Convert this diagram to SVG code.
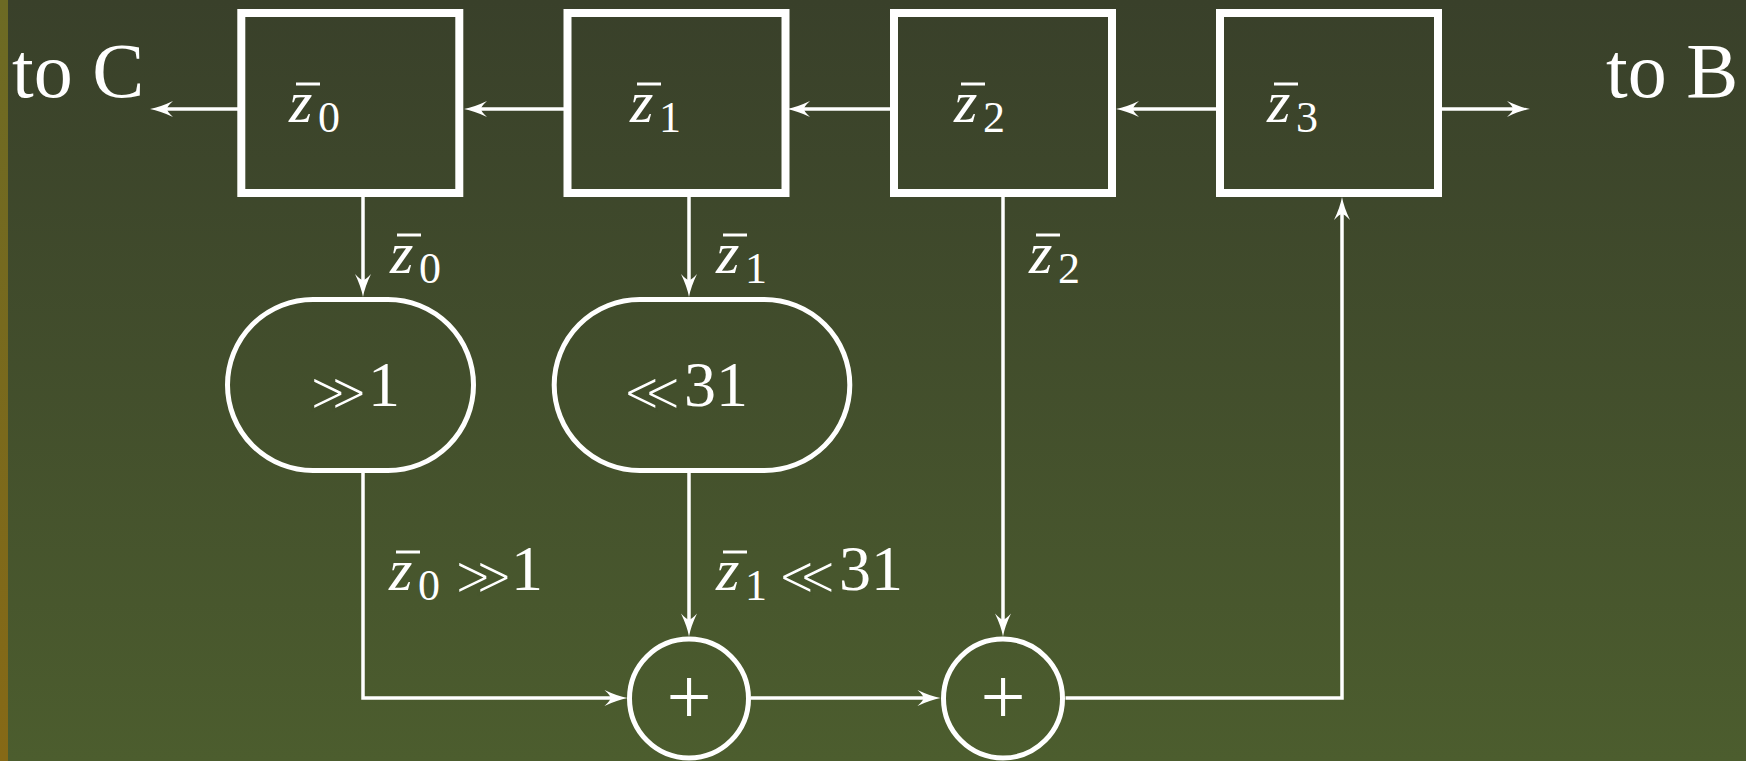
<svg xmlns="http://www.w3.org/2000/svg" width="1746" height="761" viewBox="0 0 1746 761">
  <defs>
    <linearGradient id="bg" x1="0" y1="0" x2="0" y2="1">
      <stop offset="0" stop-color="#39402a"/>
      <stop offset="1" stop-color="#4c5d2e"/>
    </linearGradient>
    <linearGradient id="strip" x1="0" y1="0" x2="0" y2="1">
      <stop offset="0" stop-color="#6c6a24"/>
      <stop offset="1" stop-color="#866916"/>
    </linearGradient>
    <!-- curved LaTeX-style arrow tip; the tip lies 12px beyond the path end -->
    <marker id="tip" markerUnits="userSpaceOnUse" markerWidth="24" markerHeight="18" refX="11" refY="9" orient="auto" overflow="visible">
      <path d="M23,9 Q13,7.2 0,1 Q6,6.5 6,9 Q6,11.5 0,17 Q13,10.8 23,9 Z" fill="#fff"/>
    </marker>
    <style>
      .reg { fill: none; stroke: #fff; stroke-width: 8; }
      .op { fill: none; stroke: #fff; stroke-width: 5; }
      .wire { fill: none; stroke: #fff; stroke-width: 3.5; marker-end: url(#tip); }
      .bar { stroke: #fff; stroke-width: 3; }
      .var { font-family: "Liberation Serif", serif; font-style: italic; font-size: 60px; fill: #fff; }
      .sub { font-family: "Liberation Serif", serif; font-style: normal; font-size: 44px; fill: #fff; }
      .num { font-family: "Liberation Serif", serif; font-size: 64px; fill: #fff; }
      /* shift operators: a background-coloured stroke over the fill keeps the chevrons thin */
      .rel { font-family: "DejaVu Sans", sans-serif; font-size: 56px; fill: #fff; stroke-width: 2.4; }
      .rel.mid { stroke: #434f2c; }
      .rel.low { stroke: #47562d; }
      .big { font-family: "Liberation Serif", serif; font-size: 78px; fill: #fff; }
      .plus { font-family: "Liberation Serif", serif; font-size: 80px; fill: #fff; text-anchor: middle; }
    </style>
  </defs>

  <rect width="1746" height="761" fill="url(#bg)"/>
  <rect width="8" height="761" fill="url(#strip)"/>

  <!-- connectors -->
  <g id="connectors">
    <path class="wire" d="M238,109 H162"/>
    <path class="wire" d="M566,109 H476"/>
    <path class="wire" d="M890,109 H799"/>
    <path class="wire" d="M1216,109 H1128"/>
    <path class="wire" d="M1442,109 H1518"/>
    <path class="wire" d="M363,197 V285"/>
    <path class="wire" d="M689,197 V285"/>
    <path class="wire" d="M363,473 V698 H615.5"/>
    <path class="wire" d="M689,473 V624.5"/>
    <path class="wire" d="M751,698 H928.5"/>
    <path class="wire" d="M1003,197 V624.5"/>
    <path class="wire" d="M1065.5,698 H1342 V209"/>
  </g>

  <!-- outputs -->
  <text id="to-c" class="big" x="12" y="97">to C</text>
  <text id="to-b" class="big" x="1606" y="97">to B</text>

  <!-- registers -->
  <g id="reg-z0">
    <rect class="reg" x="241.3" y="13" width="218" height="180"/>
    <text class="var" x="289" y="122">z<tspan class="sub" x="318" y="132">0</tspan></text>
    <line class="bar" x1="296" y1="84" x2="320" y2="84"/>
  </g>
  <g id="reg-z1">
    <rect class="reg" x="567.5" y="13" width="218" height="180"/>
    <text class="var" x="630" y="122">z<tspan class="sub" x="659" y="132">1</tspan></text>
    <line class="bar" x1="637" y1="84" x2="661" y2="84"/>
  </g>
  <g id="reg-z2">
    <rect class="reg" x="894" y="13" width="218" height="180"/>
    <text class="var" x="954" y="122">z<tspan class="sub" x="983" y="132">2</tspan></text>
    <line class="bar" x1="961" y1="84" x2="985" y2="84"/>
  </g>
  <g id="reg-z3">
    <rect class="reg" x="1220" y="13" width="218" height="180"/>
    <text class="var" x="1267" y="122">z<tspan class="sub" x="1296" y="132">3</tspan></text>
    <line class="bar" x1="1274" y1="84" x2="1298" y2="84"/>
  </g>

  <!-- shifters -->
  <g id="shift-right">
    <rect class="op" x="227.5" y="299.5" width="246" height="171" rx="85.5"/>
    <text class="rel mid" x="309" y="411">≫</text>
    <text class="num" x="368" y="406">1</text>
  </g>
  <g id="shift-left">
    <rect class="op" x="554.2" y="299.5" width="295.6" height="171" rx="85.5"/>
    <text class="rel mid" x="623" y="411">≪</text>
    <text class="num" x="684" y="406">31</text>
  </g>

  <!-- adders -->
  <g id="add-1">
    <circle class="op" cx="689" cy="698.5" r="59.5"/>
    <text class="plus" x="689" y="724">+</text>
  </g>
  <g id="add-2">
    <circle class="op" cx="1003" cy="698.5" r="59.5"/>
    <text class="plus" x="1003" y="724">+</text>
  </g>

  <!-- wire labels -->
  <g id="wire-labels">
    <text class="var" x="390" y="273">z<tspan class="sub" x="419" y="283">0</tspan></text>
    <line class="bar" x1="397" y1="235" x2="421" y2="235"/>
    <text class="var" x="716" y="273">z<tspan class="sub" x="745" y="283">1</tspan></text>
    <line class="bar" x1="723" y1="235" x2="747" y2="235"/>
    <text class="var" x="1029" y="273">z<tspan class="sub" x="1058" y="283">2</tspan></text>
    <line class="bar" x1="1036" y1="235" x2="1060" y2="235"/>

    <text class="var" x="389" y="590">z<tspan class="sub" x="418" y="600">0</tspan></text>
    <line class="bar" x1="396" y1="552" x2="420" y2="552"/>
    <text class="rel low" x="454" y="595">≫</text>
    <text class="num" x="511" y="590">1</text>

    <text class="var" x="716" y="590">z<tspan class="sub" x="745" y="600">1</tspan></text>
    <line class="bar" x1="723" y1="552" x2="747" y2="552"/>
    <text class="rel low" x="778" y="595">≪</text>
    <text class="num" x="839" y="590">31</text>
  </g>
</svg>
